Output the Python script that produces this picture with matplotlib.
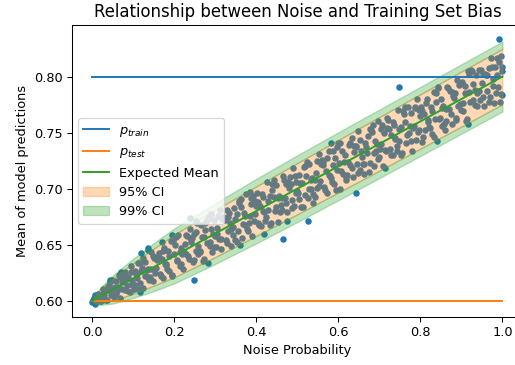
import numpy as np
import matplotlib
matplotlib.use("Agg")
import matplotlib.pyplot as plt

noise = [
    0.001, 0.004, 0.008, 0.011, 0.015, 0.018,
    0.022, 0.026, 0.029, 0.033, 0.036, 0.039,
    0.041, 0.045, 0.048, 0.052, 0.055, 0.059,
    0.061, 0.065, 0.068, 0.072, 0.075, 0.079,
    0.081, 0.084, 0.088, 0.091, 0.095, 0.098,
    0.102, 0.105, 0.109, 0.112, 0.116, 0.119,
    0.121, 0.125, 0.128, 0.132, 0.135, 0.139,
    0.141, 0.144, 0.148, 0.151, 0.155, 0.158,
    0.162, 0.165, 0.169, 0.172, 0.176, 0.179,
    0.181, 0.185, 0.188, 0.192, 0.195, 0.199,
    0.202, 0.206, 0.209, 0.213, 0.216, 0.219,
    0.221, 0.225, 0.228, 0.232, 0.235, 0.239,
    0.242, 0.245, 0.249, 0.252, 0.256, 0.259,
    0.262, 0.265, 0.269, 0.272, 0.276, 0.279,
    0.282, 0.286, 0.289, 0.293, 0.296, 0.299,
    0.301, 0.305, 0.308, 0.312, 0.315, 0.319,
    0.322, 0.325, 0.329, 0.332, 0.336, 0.339,
    0.342, 0.346, 0.349, 0.353, 0.356, 0.359,
    0.362, 0.366, 0.369, 0.372, 0.376, 0.379,
    0.382, 0.386, 0.389, 0.392, 0.396, 0.399,
    0.402, 0.405, 0.409, 0.412, 0.416, 0.419,
    0.422, 0.426, 0.429, 0.433, 0.436, 0.439,
    0.442, 0.445, 0.449, 0.452, 0.456, 0.459,
    0.462, 0.466, 0.469, 0.473, 0.476, 0.479,
    0.482, 0.486, 0.489, 0.492, 0.496, 0.499,
    0.502, 0.505, 0.509, 0.512, 0.516, 0.519,
    0.522, 0.526, 0.529, 0.533, 0.536, 0.539,
    0.542, 0.545, 0.549, 0.552, 0.556, 0.559,
    0.562, 0.566, 0.569, 0.573, 0.576, 0.579,
    0.582, 0.586, 0.589, 0.592, 0.596, 0.599,
    0.602, 0.605, 0.609, 0.612, 0.616, 0.619,
    0.622, 0.626, 0.629, 0.633, 0.636, 0.639,
    0.642, 0.645, 0.649, 0.652, 0.656, 0.659,
    0.662, 0.666, 0.669, 0.673, 0.676, 0.679,
    0.682, 0.686, 0.689, 0.692, 0.696, 0.699,
    0.702, 0.705, 0.709, 0.712, 0.716, 0.719,
    0.722, 0.726, 0.729, 0.733, 0.736, 0.739,
    0.742, 0.745, 0.749, 0.752, 0.756, 0.759,
    0.762, 0.766, 0.769, 0.773, 0.776, 0.779,
    0.782, 0.786, 0.789, 0.792, 0.796, 0.799,
    0.802, 0.805, 0.809, 0.812, 0.816, 0.819,
    0.822, 0.826, 0.829, 0.833, 0.836, 0.839,
    0.842, 0.845, 0.849, 0.852, 0.856, 0.859,
    0.862, 0.866, 0.869, 0.873, 0.876, 0.879,
    0.882, 0.886, 0.889, 0.892, 0.896, 0.899,
    0.902, 0.905, 0.909, 0.912, 0.916, 0.919,
    0.922, 0.926, 0.929, 0.933, 0.936, 0.939,
    0.942, 0.945, 0.949, 0.952, 0.956, 0.959,
    0.962, 0.966, 0.969, 0.973, 0.976, 0.979,
    0.982, 0.986, 0.989, 0.992, 0.996, 1.000,
    # points outside the bands
    0.000, 0.006, 0.044, 0.0695, 0.116, 0.120, 0.136, 0.137,
    0.171, 0.1947, 0.2395, 0.252, 0.275, 0.2907, 0.330, 0.248,
    0.2825, 0.360, 0.385, 0.419, 0.465, 0.4736, 0.526, 0.5817,
    0.643, 0.714, 0.748, 0.8395, 0.9166, 0.9915, 0.998, 1.000,
]
mean_pred = [
    0.6005, 0.5993, 0.6048, 0.6012, 0.6060, 0.5994,
    0.5996, 0.6108, 0.6050, 0.6098, 0.6008, 0.6094,
    0.6132, 0.6050, 0.6186, 0.6034, 0.6120, 0.6178,
    0.6086, 0.6226, 0.6028, 0.6168, 0.6210, 0.6098,
    0.6253, 0.6142, 0.6215, 0.6078, 0.6307, 0.6144,
    0.6102, 0.6268, 0.6203, 0.6340, 0.6159, 0.6267,
    0.6289, 0.6110, 0.6349, 0.6217, 0.6286, 0.6185,
    0.6216, 0.6437, 0.6180, 0.6385, 0.6293, 0.6366,
    0.6429, 0.6242, 0.6373, 0.6204, 0.6475, 0.6323,
    0.6325, 0.6444, 0.6265, 0.6532, 0.6223, 0.6417,
    0.6500, 0.6354, 0.6591, 0.6311, 0.6470, 0.6419,
    0.6284, 0.6509, 0.6417, 0.6582, 0.6371, 0.6636,
    0.6524, 0.6350, 0.6598, 0.6444, 0.6692, 0.6418,
    0.6442, 0.6674, 0.6353, 0.6565, 0.6634, 0.6517,
    0.6732, 0.6488, 0.6641, 0.6439, 0.6718, 0.6577,
    0.6476, 0.6652, 0.6553, 0.6813, 0.6462, 0.6743,
    0.6730, 0.6542, 0.6809, 0.6621, 0.6694, 0.6484,
    0.6662, 0.6824, 0.6544, 0.6772, 0.6624, 0.6894,
    0.6834, 0.6556, 0.6782, 0.6678, 0.6950, 0.6626,
    0.6698, 0.6860, 0.6580, 0.6938, 0.6770, 0.6842,
    0.6962, 0.6697, 0.6841, 0.6666, 0.6922, 0.6793,
    0.6709, 0.7055, 0.6813, 0.6934, 0.6692, 0.6991,
    0.6929, 0.6800, 0.7033, 0.6701, 0.6935, 0.6850,
    0.6809, 0.7116, 0.6915, 0.7038, 0.6791, 0.7004,
    0.7102, 0.6903, 0.7185, 0.6846, 0.7061, 0.6975,
    0.6958, 0.7125, 0.6834, 0.7047, 0.7193, 0.6946,
    0.7113, 0.6914, 0.7219, 0.6997, 0.7095, 0.6871,
    0.6923, 0.7136, 0.7006, 0.7311, 0.7066, 0.7256,
    0.7241, 0.7015, 0.7161, 0.6960, 0.7338, 0.7111,
    0.7094, 0.7335, 0.7038, 0.7277, 0.7169, 0.7408,
    0.7228, 0.6998, 0.7336, 0.7130, 0.7303, 0.7073,
    0.7126, 0.7393, 0.7211, 0.7454, 0.7107, 0.7325,
    0.7378, 0.7219, 0.7510, 0.7163, 0.7336, 0.7224,
    0.7132, 0.7404, 0.7314, 0.7466, 0.7232, 0.7526,
    0.7508, 0.7204, 0.7426, 0.7336, 0.7608, 0.7278,
    0.7356, 0.7530, 0.7202, 0.7496, 0.7336, 0.7630,
    0.7612, 0.7356, 0.7482, 0.7298, 0.7568, 0.7454,
    0.7340, 0.7706, 0.7426, 0.7552, 0.7320, 0.7662,
    0.7597, 0.7411, 0.7732, 0.7498, 0.7673, 0.7340,
    0.7540, 0.7717, 0.7433, 0.7802, 0.7519, 0.7646,
    0.7725, 0.7416, 0.7666, 0.7527, 0.7801, 0.7614,
    0.7547, 0.7725, 0.7489, 0.7860, 0.7624, 0.7775,
    0.7904, 0.7617, 0.7796, 0.7558, 0.7736, 0.7523,
    0.7602, 0.7903, 0.7714, 0.7868, 0.7581, 0.7831,
    0.7813, 0.7626, 0.7973, 0.7735, 0.7938, 0.7700,
    0.7950, 0.7761, 0.7916, 0.7604, 0.8052, 0.7862,
    0.7771, 0.8047, 0.7931, 0.7744, 0.8018, 0.7854,
    0.8055, 0.7792, 0.7947, 0.8026, 0.7741, 0.8016,
    0.7875, 0.8079, 0.7815, 0.8167, 0.7977, 0.7762,
    0.8087, 0.8168, 0.7904, 0.8131, 0.7845, 0.8049,
    # points outside the bands
    0.5990, 0.5970, 0.6185, 0.6260, 0.6080, 0.6429, 0.6468, 0.6450,
    0.6527, 0.6587, 0.6736, 0.6714, 0.6690, 0.6774, 0.6750, 0.6185,
    0.6340, 0.6497, 0.6970, 0.6596, 0.6555, 0.6712, 0.6714, 0.7407,
    0.6964, 0.7185, 0.7905, 0.7423, 0.7575, 0.8337, 0.8089, 0.7837,
]

# second, denser pass over the same cloud
noise_b = [
    0.0035, 0.0075, 0.0135, 0.0175, 0.0235, 0.0275, 0.0335, 0.0375,
    0.0435, 0.0475, 0.0535, 0.0575, 0.0635, 0.0675, 0.0735, 0.0775,
    0.0835, 0.0875, 0.0935, 0.0975, 0.1035, 0.1075, 0.1135, 0.1175,
    0.1235, 0.1275, 0.1335, 0.1375, 0.1435, 0.1475, 0.1535, 0.1575,
    0.1635, 0.1675, 0.1735, 0.1775, 0.1835, 0.1875, 0.1935, 0.1975,
    0.2035, 0.2075, 0.2135, 0.2175, 0.2235, 0.2275, 0.2335, 0.2375,
    0.2435, 0.2475, 0.2535, 0.2575, 0.2635, 0.2675, 0.2735, 0.2775,
    0.2835, 0.2875, 0.2935, 0.2975, 0.3035, 0.3075, 0.3135, 0.3175,
    0.3235, 0.3275, 0.3335, 0.3375, 0.3435, 0.3475, 0.3535, 0.3575,
    0.3635, 0.3675, 0.3735, 0.3775, 0.3835, 0.3875, 0.3935, 0.3975,
    0.4035, 0.4075, 0.4135, 0.4175, 0.4235, 0.4275, 0.4335, 0.4375,
    0.4435, 0.4475, 0.4535, 0.4575, 0.4635, 0.4675, 0.4735, 0.4775,
    0.4835, 0.4875, 0.4935, 0.4975, 0.5035, 0.5075, 0.5135, 0.5175,
    0.5235, 0.5275, 0.5335, 0.5375, 0.5435, 0.5475, 0.5535, 0.5575,
    0.5635, 0.5675, 0.5735, 0.5775, 0.5835, 0.5875, 0.5935, 0.5975,
    0.6035, 0.6075, 0.6135, 0.6175, 0.6235, 0.6275, 0.6335, 0.6375,
    0.6435, 0.6475, 0.6535, 0.6575, 0.6635, 0.6675, 0.6735, 0.6775,
    0.6835, 0.6875, 0.6935, 0.6975, 0.7035, 0.7075, 0.7135, 0.7175,
    0.7235, 0.7275, 0.7335, 0.7375, 0.7435, 0.7475, 0.7535, 0.7575,
    0.7635, 0.7675, 0.7735, 0.7775, 0.7835, 0.7875, 0.7935, 0.7975,
    0.8035, 0.8075, 0.8135, 0.8175, 0.8235, 0.8275, 0.8335, 0.8375,
    0.8435, 0.8475, 0.8535, 0.8575, 0.8635, 0.8675, 0.8735, 0.8775,
    0.8835, 0.8875, 0.8935, 0.8975, 0.9035, 0.9075, 0.9135, 0.9175,
    0.9235, 0.9275, 0.9335, 0.9375, 0.9435, 0.9475, 0.9535, 0.9575,
    0.9635, 0.9675, 0.9735, 0.9775, 0.9835, 0.9875, 0.9935, 0.9975,
]
mean_pred_b = [
    0.6022, 0.5988, 0.6050, 0.6029, 0.6013, 0.6066, 0.6003, 0.6131,
    0.6170, 0.6070, 0.6112, 0.6061, 0.6121, 0.6210, 0.6107, 0.6207,
    0.6213, 0.6090, 0.6259, 0.6175, 0.6144, 0.6236, 0.6108, 0.6340,
    0.6377, 0.6217, 0.6275, 0.6191, 0.6279, 0.6402, 0.6249, 0.6389,
    0.6388, 0.6221, 0.6443, 0.6329, 0.6284, 0.6403, 0.6230, 0.6534,
    0.6570, 0.6367, 0.6437, 0.6329, 0.6437, 0.6583, 0.6398, 0.6564,
    0.6557, 0.6365, 0.6617, 0.6485, 0.6435, 0.6566, 0.6374, 0.6708,
    0.6744, 0.6523, 0.6597, 0.6481, 0.6596, 0.6752, 0.6553, 0.6730,
    0.6721, 0.6517, 0.6784, 0.6643, 0.6591, 0.6727, 0.6525, 0.6876,
    0.6911, 0.6681, 0.6758, 0.6636, 0.6756, 0.6917, 0.6711, 0.6893,
    0.6884, 0.6672, 0.6948, 0.6802, 0.6748, 0.6888, 0.6679, 0.7041,
    0.7077, 0.6839, 0.6918, 0.6792, 0.6916, 0.7081, 0.6868, 0.7056,
    0.7046, 0.6827, 0.7112, 0.6961, 0.6904, 0.7049, 0.6833, 0.7206,
    0.7242, 0.6998, 0.7078, 0.6949, 0.7075, 0.7245, 0.7026, 0.7219,
    0.7208, 0.6985, 0.7274, 0.7120, 0.7063, 0.7210, 0.6990, 0.7369,
    0.7406, 0.7156, 0.7239, 0.7106, 0.7235, 0.7408, 0.7185, 0.7381,
    0.7370, 0.7142, 0.7437, 0.7280, 0.7220, 0.7371, 0.7146, 0.7533,
    0.7569, 0.7315, 0.7399, 0.7264, 0.7395, 0.7570, 0.7343, 0.7543,
    0.7531, 0.7299, 0.7599, 0.7439, 0.7379, 0.7531, 0.7303, 0.7695,
    0.7732, 0.7475, 0.7559, 0.7422, 0.7555, 0.7732, 0.7503, 0.7703,
    0.7692, 0.7458, 0.7760, 0.7599, 0.7538, 0.7691, 0.7460, 0.7857,
    0.7894, 0.7634, 0.7719, 0.7581, 0.7715, 0.7894, 0.7662, 0.7865,
    0.7852, 0.7616, 0.7921, 0.7758, 0.7697, 0.7852, 0.7619, 0.8019,
    0.8055, 0.7794, 0.7879, 0.7740, 0.7875, 0.8055, 0.7821, 0.8026,
    0.8013, 0.7775, 0.8082, 0.7918, 0.7856, 0.8012, 0.7777, 0.8180,
]

p_train = 0.8
p_test = 0.6

# confidence bands: noise level, expected mean, half widths
ci_p = [0, 0.005, 0.01, 0.025, 0.05, 0.075, 0.1, 0.15, 0.2, 0.3, 0.4, 0.5, 0.6, 0.7, 0.8, 0.9, 1.0]
ci_mid = [0.6, 0.601, 0.602, 0.605, 0.61, 0.615, 0.62, 0.63, 0.64, 0.66, 0.68, 0.70, 0.72, 0.74, 0.76, 0.78, 0.80]
ci95_half = [0, 0.0028, 0.0042, 0.0068, 0.0098, 0.0118, 0.0135, 0.0165, 0.019, 0.021, 0.022, 0.0228, 0.0234, 0.0239, 0.0242, 0.0245, 0.0247]
ci99_half = [0, 0.0036, 0.0054, 0.0086, 0.0125, 0.0152, 0.0175, 0.0215, 0.0245, 0.0272, 0.0288, 0.0298, 0.0303, 0.0306, 0.0308, 0.031, 0.0312]

mid = np.array(ci_mid)
h95 = np.array(ci95_half)
h99 = np.array(ci99_half)

fig = plt.figure(figsize=(515 / 93, 365 / 93), dpi=93)
ax = fig.add_axes([0.1392, 0.1315, 0.8763, 0.80])

ax.scatter(noise + noise_b, mean_pred + mean_pred_b, s=16, color="C0")
ax.plot([0, 1], [p_train, p_train], color="C0", label="$p_{train}$")
ax.plot([0, 1], [p_test, p_test], color="C1", label="$p_{test}$")
ax.plot([0, 1], [ci_mid[0], ci_mid[-1]], color="C2", label="Expected Mean")
ax.fill_between(ci_p, mid - h95, mid + h95, color="C1", alpha=0.3, label="95% CI")
ax.fill_between(ci_p, mid + h95, mid + h99, color="C2", alpha=0.3, label="99% CI")
ax.fill_between(ci_p, mid - h99, mid - h95, color="C2", alpha=0.3)

ax.set_xlim(-0.05, 1.05)
ax.set_ylim(0.5855, 0.846)
ax.set_title("Relationship between Noise and Training Set Bias", fontsize=12.8)
ax.set_xlabel("Noise Probability")
ax.set_ylabel("Mean of model predictions")
ax.legend(loc="center left")

fig.savefig("out.png", dpi=93)
